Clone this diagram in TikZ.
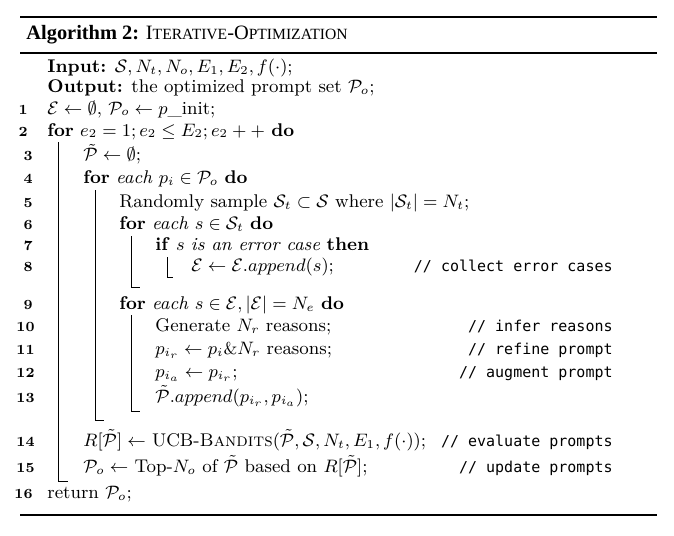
\documentclass[tikz,border=0pt]{standalone}
\usepackage{fontspec}
\newfontfamily\cmtfont{DejaVu Sans Mono}
\newfontfamily\titlefont{Liberation Serif}
\DeclareMathSizes{9.2}{8.6}{6.2}{5}
\newcommand{\fakesc}[1]{{\fontsize{7.8}{9}\selectfont #1}}

\begin{document}
\begin{tikzpicture}[
  x=0.5pt,
  y=-0.5pt,
  every node/.style={
    inner sep=0pt,
    font=\fontsize{9.2}{11}\selectfont
  },
  algoline/.style={
    anchor=base west
  },
  lineno/.style={
    anchor=base east,
    font=\fontsize{7}{8}\selectfont\bfseries
  },
  algocmt/.style={
    anchor=base east,
    font=\fontsize{7.5}{9}\selectfont\cmtfont
  },
  algorule/.style={
    line width=1.4pt
  },
  blockbar/.style={
    line width=0.5pt
  },
]
\useasboundingbox (0,0) rectangle (674,535);
\draw[algorule] (20,17) -- (657,17);
\node[algoline, font=\fontsize{10.2}{12}\selectfont\titlefont] (title) at (26,40)
  {\textbf{Algorithm 2:} I\fakesc{TERATIVE}-O\fakesc{PTIMIZATION}};
\draw[algorule, line width=0.8pt] (20,53) -- (657,53);

\node[algoline] (in) at (47,73) {\textbf{Input:} $\mathcal{S}, N_t, N_o, E_1, E_2, f(\cdot)$;};
\node[algoline] (out) at (47,93) {\textbf{Output:} the optimized prompt set $\mathcal{P}_o$;};
\node[algoline] (l1) at (47,114) {$\mathcal{E} \leftarrow \emptyset$, $\mathcal{P}_o \leftarrow p$\_init;};
\node[algoline] (l2) at (47,136) {\textbf{for} $e_2 = 1; e_2 \leq E_2; e_2 + +$ \textbf{do}};
\node[algoline] (l3) at (83,161) {$\tilde{\mathcal{P}} \leftarrow \emptyset$;};
\node[algoline] (l4) at (83,184) {\textbf{for} \textit{each} $p_i \in \mathcal{P}_o$ \textbf{do}};
\node[algoline] (l5) at (119,207) {Randomly sample $\mathcal{S}_t \subset \mathcal{S}$ where $|\mathcal{S}_t| = N_t$;};
\node[algoline] (l6) at (119,229) {\textbf{for} \textit{each} $s \in \mathcal{S}_t$ \textbf{do}};
\node[algoline] (l7) at (155,250) {\textbf{if} $s$ \textit{is an error case} \textbf{then}};
\node[algoline] (l8) at (191,271) {$\mathcal{E} \leftarrow \mathcal{E}.append(s)$;};
\node[algoline] (l9) at (119,309) {\textbf{for} \textit{each} $s \in \mathcal{E}, |\mathcal{E}| = N_e$ \textbf{do}};
\node[algoline] (l10) at (155,331) {Generate $N_r$ reasons;};
\node[algoline] (l11) at (155,354) {$p_{i_r} \leftarrow p_i \& N_r$ reasons;};
\node[algoline] (l12) at (155,377) {$p_{i_a} \leftarrow p_{i_r}$;};
\node[algoline] (l13) at (155,402) {$\tilde{\mathcal{P}}.append(p_{i_r}, p_{i_a})$;};
\node[algoline] (l14) at (83,446) {$R[\tilde{\mathcal{P}}] \leftarrow$ UCB-\textsc{Bandits}$(\tilde{\mathcal{P}}, \mathcal{S}, N_t, E_1, f(\cdot))$;};
\node[algoline] (l15) at (83,472) {$\mathcal{P}_o \leftarrow$ Top-$N_o$ of $\tilde{\mathcal{P}}$ based on $R[\tilde{\mathcal{P}}]$;};
\node[algoline] (l16) at (47,498) {return $\mathcal{P}_o$;};

% comments
\node[algocmt] (c8) at (613,271) {// collect error cases};
\node[algocmt] (c10) at (613,331) {// infer reasons};
\node[algocmt] (c11) at (613,354) {// refine prompt};
\node[algocmt] (c12) at (613,377) {// augment prompt};
\node[algocmt] (c14) at (613,446) {// evaluate prompts};
\node[algocmt] (c15) at (613,472) {// update prompts};

% line numbers
\foreach \n/\x/\y in {1/28/114, 2/28/136, 3/33/161, 4/33/184, 5/33/207,
  6/33/229, 7/33/250, 8/33/271, 9/33/309, 10/35/331, 11/35/354,
  12/35/377, 13/35/402, 14/35/446, 15/35/472, 16/33/498}
  \node[lineno] (n\n) at (\x,\y) {\n};

% blocks
\draw[blockbar] (58,142) -- (58,481) -- (68,481);
\draw[blockbar] (95,190) -- (95,420) -- (104,420);
\draw[blockbar] (131,236) -- (131,287) -- (140,287);
\draw[blockbar] (167,257) -- (167,277) -- (173,277);
\draw[blockbar] (131,315) -- (131,411) -- (140,411);

\draw[algorule] (20,515) -- (657,515);
\end{tikzpicture}
\end{document}
